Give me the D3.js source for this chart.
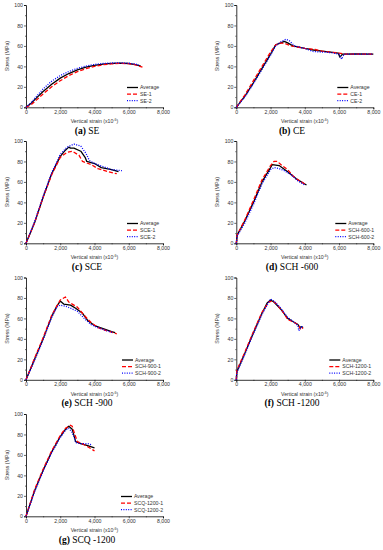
<!DOCTYPE html>
<html><head><meta charset="utf-8">
<script src="https://cdn.jsdelivr.net/npm/d3@7"></script>
<style>body{margin:0;background:#fff}svg{display:block}</style>
</head><body><svg id="c" width="383" height="550"></svg>
<script>
const xTicks=[0,2000,4000,6000,8000];
const yTicks=[0,20,40,60,80,100];
const xMinor=[1000,3000,5000,7000];
const yMinor=[10,30,50,70,90];

// (a) SE
const seAvg=[[0,0],[300,4],[600,9],[1000,15.5],[1500,22.5],[2000,28.5],[2500,33],[3000,36.5],[3500,39.2],[4000,41],[4500,42.2],[5000,42.9],[5500,43.1],[6000,42.8],[6400,41.8],[6700,40.2]];
const se1=[[0,0],[300,2.5],[600,7],[1000,13],[1500,20],[2000,26],[2500,31],[3000,34.8],[3500,37.8],[4000,40],[4500,41.6],[5000,42.5],[5500,42.9],[6000,42.6],[6400,41.5],[6800,39.2]];
const se2=[[0,0],[300,4.5],[600,10.5],[1000,18],[1500,25.5],[2000,31],[2500,35],[3000,38],[3500,40.3],[4000,41.9],[4500,42.8],[5000,43.3],[5500,43.4],[6000,43.1],[6400,42.2],[6600,41.3]];
// (b) CE
const ceAvg=[[0,0],[500,11],[1000,24],[1500,38],[2000,52],[2300,61],[2600,63],[2800,64.5],[3000,63],[3300,60],[4000,57.5],[4500,56],[5000,55],[5500,54],[5950,53],[6050,49],[6200,52],[7000,52.3],[8000,52]];
const ce1=[[0,0],[500,12],[1000,26],[1500,40],[2000,54],[2300,61],[2600,63],[2900,62],[3200,60],[4000,57.5],[4600,56.5],[5000,55],[5500,54],[6000,53],[6300,52],[7000,52],[8000,52]];
const ce2=[[0,0],[500,10],[1000,23],[1500,37],[2000,51],[2300,60],[2600,64],[2900,66.5],[3100,65],[3400,60],[4000,57.5],[4500,54.5],[5000,54],[5500,53.5],[6000,52],[6150,47],[6300,52],[7000,52],[8000,52]];
// (c) SCE
const sceAvg=[[0,0],[500,20],[1000,45],[1500,68],[2000,85],[2300,91],[2500,94],[2600,93],[2800,93],[3200,90],[3450,84],[3550,80],[4000,78],[4400,74],[5000,72],[5400,70]];
const sce1=[[0,0],[500,20],[1000,45],[1500,67],[2000,84],[2400,89],[2700,90],[3100,86],[3300,80],[3800,77],[4200,73],[4800,70],[5300,68]];
const sce2=[[0,0],[500,21],[1000,46],[1500,69],[2000,87],[2400,94],[2800,97],[3200,95],[3500,88],[3700,81],[4000,78],[4500,75],[5000,72],[5600,71]];
// (d) SCH-600
const s6Avg=[[0,0],[50,8],[500,22],[1000,40],[1500,60],[2000,74],[2100,77],[2500,76],[3000,70],[3500,63],[4000,58],[4100,57]];
const s61=[[0,0],[50,8],[500,23],[1000,42],[1500,62],[2000,76],[2200,80],[2400,80],[2600,77],[3000,72],[3300,66],[3600,62],[4000,58]];
const s62=[[0,0],[50,7],[500,20],[1000,38],[1500,58],[2000,72],[2200,74],[2500,73],[2800,71],[3200,67],[3600,61],[4000,57]];
// (e) SCH-900
const s9Avg=[[0,0],[500,20],[1000,40],[1500,62],[1800,72],[2000,77],[2200,74],[2600,73],[2900,70],[3300,65],[3600,58],[4000,53],[4500,50],[5000,47],[5200,46]];
const s91=[[0,0],[500,21],[1000,41],[1500,63],[2000,78],[2300,81],[2500,76],[2700,74],[3000,71],[3400,63],[3800,56],[4200,51],[4700,48],[5300,45]];
const s92=[[0,0],[500,19],[1000,39],[1500,61],[1800,71],[2000,73],[2300,72],[2600,70],[3000,67],[3400,60],[3800,54],[4200,51],[4700,48],[5100,46]];
// (f) SCH-1200
const s12Avg=[[0,0],[30,8],[500,26],[1000,46],[1500,65],[1800,75],[2000,78],[2200,76],[2600,69],[3000,60],[3300,57],[3600,54],[3700,51],[3800,52],[3900,51]];
const s121=[[0,0],[30,9],[500,27],[1000,47],[1500,66],[1900,76],[2100,77],[2300,75],[2700,67],[3000,59],[3400,56],[3650,53],[3750,49],[3900,51]];
const s122=[[0,0],[30,7],[500,25],[1000,45],[1500,64],[2000,79],[2200,77],[2600,70],[3000,61],[3400,56],[3600,53],[3650,48],[3800,52],[3900,51]];
// (g) SCQ-1200
const sqAvg=[[0,0],[500,25],[1000,45],[1500,63],[2000,78],[2300,85],[2500,88],[2700,85],[2900,73],[3200,71],[3600,69],[4000,67]];
const sq1=[[0,0],[500,26],[1000,46],[1500,64],[2000,79],[2300,86],[2600,89],[2700,88],[2850,80],[3000,73],[3400,70],[3800,66],[4000,64]];
const sq2=[[0,0],[500,24],[1000,44],[1500,62],[2000,77],[2300,84],[2500,86],[2650,83],[2800,78],[2900,72],[3200,71],[3600,71],[3800,70]];

const captionLetters=["(a)","(b)","(c)","(d)","(e)","(f)","(g)"];
const captionNames=[" SE"," CE"," SCE"," SCH -600"," SCH -900"," SCH -1200"," SCQ -1200"];
const legendLabels=[["Average","SE-1","SE-2"],["Average","CE-1","CE-2"],["Average","SCE-1","SCE-2"],["Average","SCH-600-1","SCH-600-2"],["Average","SCH-900-1","SCH-900-2"],["Average","SCH-1200-1","SCH-1200-2"],["Average","SCQ-1200-1","SCQ-1200-2"]];
const seriesData=[[seAvg,se1,se2],[ceAvg,ce1,ce2],[sceAvg,sce1,sce2],[s6Avg,s61,s62],[s9Avg,s91,s92],[s12Avg,s121,s122],[sqAvg,sq1,sq2]];

const colX=[26,236.3], rowY=[5,141,277.5,414], W=137, H=102.3;
const legX=[101,101,101,99,96,93,95];
const capX=[87,292];
const styles=[{c:"#000",d:null,w:1.3},{c:"#ff0000",d:"4,2",w:1.3},{c:"#0000ff",d:"1,1.4",w:1.3}];
const font="'Liberation Sans',Arial,sans-serif";
const svg=d3.select("#c");

seriesData.forEach((ser,i)=>{
  const col=i%2,row=Math.floor(i/2);
  const g=svg.append("g").attr("transform",`translate(${colX[col]},${rowY[row]})`);
  const x=d3.scaleLinear().domain([0,8000]).range([0,W]);
  const y=d3.scaleLinear().domain([0,100]).range([H,0]);
  const ax=g.append("g").attr("transform",`translate(0,${H})`).call(d3.axisBottom(x).tickValues(xTicks).tickSize(2).tickPadding(1).tickFormat(d3.format(",")));
  g.append("g").attr("transform",`translate(0,${H})`).call(d3.axisBottom(x).tickValues(xMinor).tickSize(1).tickFormat("")).select(".domain").remove();
  const ay=g.append("g").call(d3.axisLeft(y).tickValues(yTicks).tickSize(2).tickPadding(1));
  g.append("g").call(d3.axisLeft(y).tickValues(yMinor).tickSize(1).tickFormat("")).select(".domain").remove();
  g.selectAll(".domain").attr("stroke-width",0.8);
  g.selectAll(".tick line").attr("stroke-width",0.6);
  [ax,ay].forEach(a=>a.selectAll("text").attr("font-family",font).attr("font-size",5.2).attr("fill","#333"));
  g.selectAll("path.domain").attr("d",function(){return d3.select(this).attr("d").replace(/M-?[\d.]+,/,m=>m);});
  // axis titles
  const xt=g.append("text").attr("x",W/2).attr("y",H+16).attr("text-anchor","middle").attr("font-family",font).attr("font-size",5.2).attr("fill","#333").text("Vertical strain (x10");
  xt.append("tspan").attr("dy",-2).attr("font-size",3.6).text("-6");
  xt.append("tspan").attr("dy",2).text(")");
  g.append("text").attr("transform",`translate(-17,${H/2}) rotate(-90)`).attr("text-anchor","middle").attr("font-family",font).attr("font-size",5.2).attr("fill","#333").text("Stress (MPa)");
  // lines
  const line=d3.line().x(d=>x(d[0])).y(d=>y(d[1]));
  ser.forEach((s,k)=>{
    g.append("path").datum(s).attr("d",line).attr("fill","none").attr("stroke",styles[k].c).attr("stroke-width",styles[k].w).attr("stroke-dasharray",styles[k].d).attr("stroke-linejoin","round");
  });
  // legend
  legendLabels[i].forEach((lab,k)=>{
    const ly=82.5+k*6.6;
    g.append("line").attr("x1",legX[i]).attr("x2",legX[i]+11).attr("y1",ly).attr("y2",ly).attr("stroke",styles[k].c).attr("stroke-width",styles[k].w).attr("stroke-dasharray",styles[k].d);
    g.append("text").attr("x",legX[i]+13).attr("y",ly+1.8).attr("font-family",font).attr("font-size",5.2).attr("fill","#333").text(lab);
  });
  // caption
  const cap=svg.append("text").attr("x",capX[col]).attr("y",rowY[row]+128.5).attr("text-anchor","middle").attr("font-family","'Liberation Serif','Times New Roman',serif").attr("font-size",9.5).attr("fill","#000");
  cap.append("tspan").attr("font-weight","bold").text(captionLetters[i]);
  cap.append("tspan").text(captionNames[i]);
});
</script></body></html>
